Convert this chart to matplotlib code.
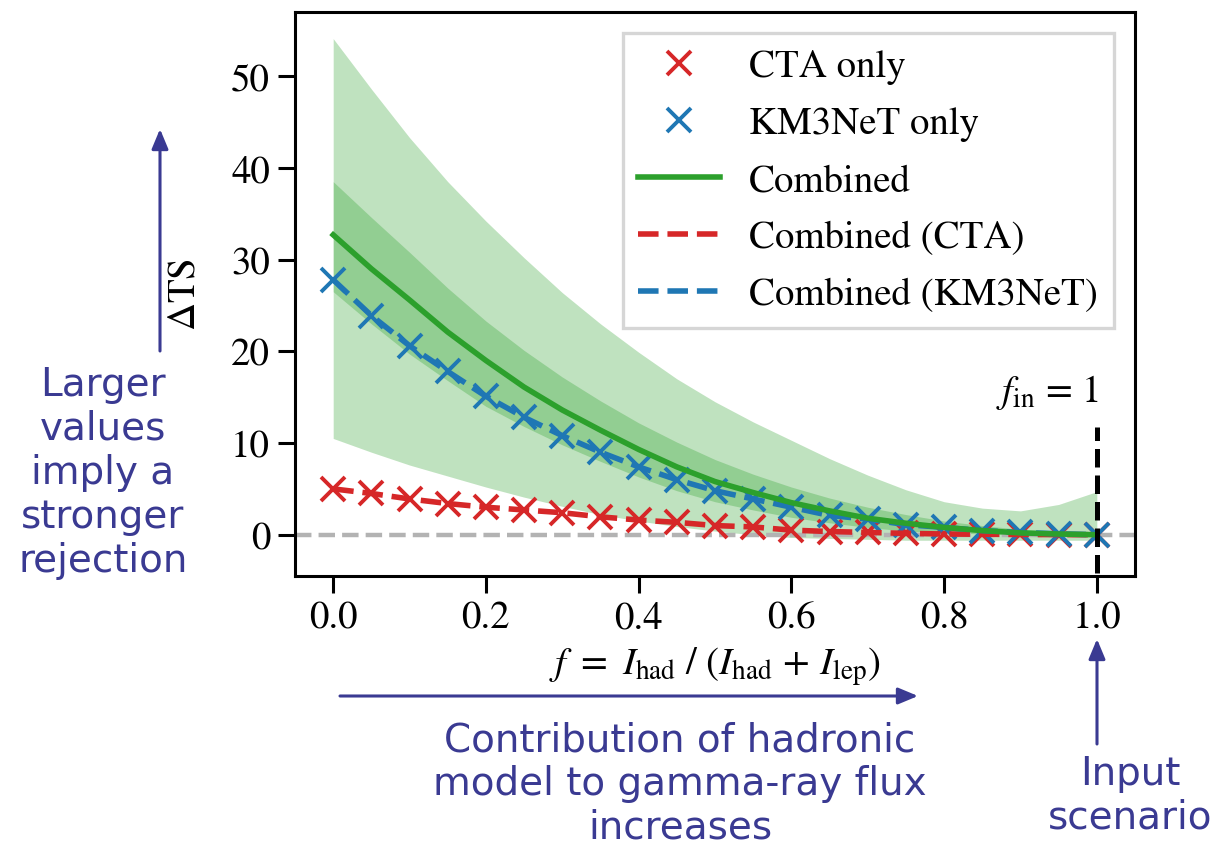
import numpy as np
import matplotlib
matplotlib.use('Agg')
import matplotlib.pyplot as plt
from matplotlib.lines import Line2D

# fraction of hadronic contribution
f_vals = [0.0, 0.05, 0.1, 0.15, 0.2, 0.25, 0.3, 0.35, 0.4, 0.45, 0.5,
          0.55, 0.6, 0.65, 0.7, 0.75, 0.8, 0.85, 0.9, 0.95, 1.0]

# delta TS
ts_cta = [5.0, 4.5, 3.9, 3.4, 3.0, 2.7, 2.4, 1.95, 1.6, 1.35, 1.0,
          0.85, 0.5, 0.35, 0.25, 0.15, 0.08, 0.05, 0.03, 0.01, 0.0]
ts_km3 = [27.8, 23.9, 20.6, 17.8, 15.1, 12.8, 10.8, 9.0, 7.4, 6.0, 4.8,
          3.9, 3.0, 2.1, 1.7, 1.1, 0.8, 0.45, 0.25, 0.1, 0.0]
ts_comb = [32.7, 29.0, 25.6, 22.1, 19.0, 16.1, 13.6, 11.4, 9.3, 7.4, 5.8,
           4.6, 3.5, 2.6, 1.8, 1.25, 0.8, 0.45, 0.2, 0.08, 0.0]
ts_comb_cta = ts_cta
ts_comb_km3 = ts_km3

# uncertainty bands on combined
band68_lo = [26.5, 23.0, 19.7, 16.8, 14.0, 11.8, 9.8, 8.0, 6.3, 4.8, 3.6,
             2.7, 1.9, 1.3, 0.8, 0.4, 0.2, 0.1, 0.05, 0.0, 0.0]
band68_hi = [38.5, 34.6, 30.8, 26.9, 23.3, 20.1, 17.2, 14.6, 12.2, 10.1, 8.2,
             6.6, 5.2, 4.0, 3.0, 2.2, 1.5, 1.0, 0.6, 0.3, 0.1]
band95_lo = [10.5, 9.0, 7.6, 6.4, 5.2, 4.1, 3.1, 2.2, 1.5, 0.9, 0.4,
             0.0, -0.3, -0.4, -0.5, -0.6, -0.6, -0.6, -0.6, -0.6, -0.6]
band95_hi = [54.1, 48.6, 43.3, 38.5, 34.2, 30.2, 26.4, 23.0, 19.9, 17.0, 14.5,
             12.3, 10.3, 8.3, 6.5, 4.9, 3.6, 2.9, 2.6, 3.3, 4.7]

f_in = 1.0

plt.rcParams['font.family'] = 'STIXGeneral'
plt.rcParams['mathtext.fontset'] = 'stix'
plt.rcParams['axes.linewidth'] = 2.2

W, H = 1226, 845
fig = plt.figure(figsize=(W / 100, H / 100), dpi=100)
ax = fig.add_axes([295 / W, 1 - 577 / H, 840 / W, 564 / H])

green = '#2ca02c'
red = '#d62728'
blue = '#1f77b4'

ax.fill_between(f_vals, band95_lo, band95_hi, color=green, alpha=0.3, lw=0)
ax.fill_between(f_vals, band68_lo, band68_hi, color=green, alpha=0.3, lw=0)
ax.axhline(0, color='#b3b3b3', ls='--', lw=3.2, zorder=1)

ax.plot(f_vals, ts_cta, 'x', color=red, ms=17, mew=2.8)
ax.plot(f_vals, ts_km3, 'x', color=blue, ms=17, mew=2.8)
ax.plot(f_vals, ts_comb_cta, '--', color=red, lw=4)
ax.plot(f_vals, ts_comb_km3, '--', color=blue, lw=4)
ax.plot(f_vals, ts_comb, '-', color=green, lw=4)

ax.plot([f_in, f_in], [-10, 11.8], '--', color='k', lw=3.6)
ax.text(f_in + 0.003, 15.6, r'$f_{\rm in}$ = 1', fontsize=28, ha='right', va='center')

ax.set_xlim(-0.05, 1.05)
ax.set_ylim(-4.5, 57)
ax.tick_params(labelsize=28, length=12, width=2.2, pad=6)
ax.set_xlabel(r'$f\ =\ I_{\rm had}\ /\ (I_{\rm had}\,+\,I_{\rm lep})$', fontsize=28, labelpad=6)
ax.set_ylabel(r'$\Delta$TS', fontsize=28)
ax.yaxis.set_label_coords(-0.11, 0.5)

handles = [
    Line2D([], [], ls='none', marker='x', color=red, ms=17, mew=2.8),
    Line2D([], [], ls='none', marker='x', color=blue, ms=17, mew=2.8),
    Line2D([], [], ls='-', color=green, lw=4),
    Line2D([], [], ls='--', color=red, lw=4),
    Line2D([], [], ls='--', color=blue, lw=4),
]
labels = ['CTA only', 'KM3NeT only', 'Combined', 'Combined (CTA)', 'Combined (KM3NeT)']
leg = ax.legend(handles, labels, loc='upper right', fontsize=28, fancybox=False,
                edgecolor='0.8', framealpha=0.8, handlelength=2.1, handletextpad=0.75,
                labelspacing=0.56, borderaxespad=0.55)
leg.get_frame().set_linewidth(2.4)

# hand-written style annotations around the axes
note = '#3a3a92'
hand = 'DejaVu Sans'


def fp(x, y):
    return (x / W, 1 - y / H)


fig.text(*fp(103, 473), 'Larger\nvalues\nimply a\nstronger\nrejection', color=note,
         fontsize=28, family=hand, ha='center', va='center', linespacing=1.2)
fig.text(*fp(680, 784), 'Contribution of hadronic\nmodel to gamma-ray flux\nincreases',
         color=note, fontsize=28, family=hand, ha='center', va='center', linespacing=1.17)
fig.text(*fp(1130, 796), 'Input\nscenario', color=note, fontsize=28, family=hand,
         ha='center', va='center', linespacing=1.2)

arrow = dict(arrowstyle='-|>,head_length=0.6,head_width=0.25', color=note, lw=2.2,
             mutation_scale=20, shrinkA=0, shrinkB=0)
ax.annotate('', xy=fp(160, 130), xytext=fp(160, 352), xycoords='figure fraction',
            textcoords='figure fraction', arrowprops=arrow)
ax.annotate('', xy=fp(918, 697), xytext=fp(340, 697), xycoords='figure fraction',
            textcoords='figure fraction', arrowprops=arrow)
ax.annotate('', xy=fp(1097, 640), xytext=fp(1097, 745), xycoords='figure fraction',
            textcoords='figure fraction', arrowprops=arrow)

fig.savefig('out.png', dpi=100)
